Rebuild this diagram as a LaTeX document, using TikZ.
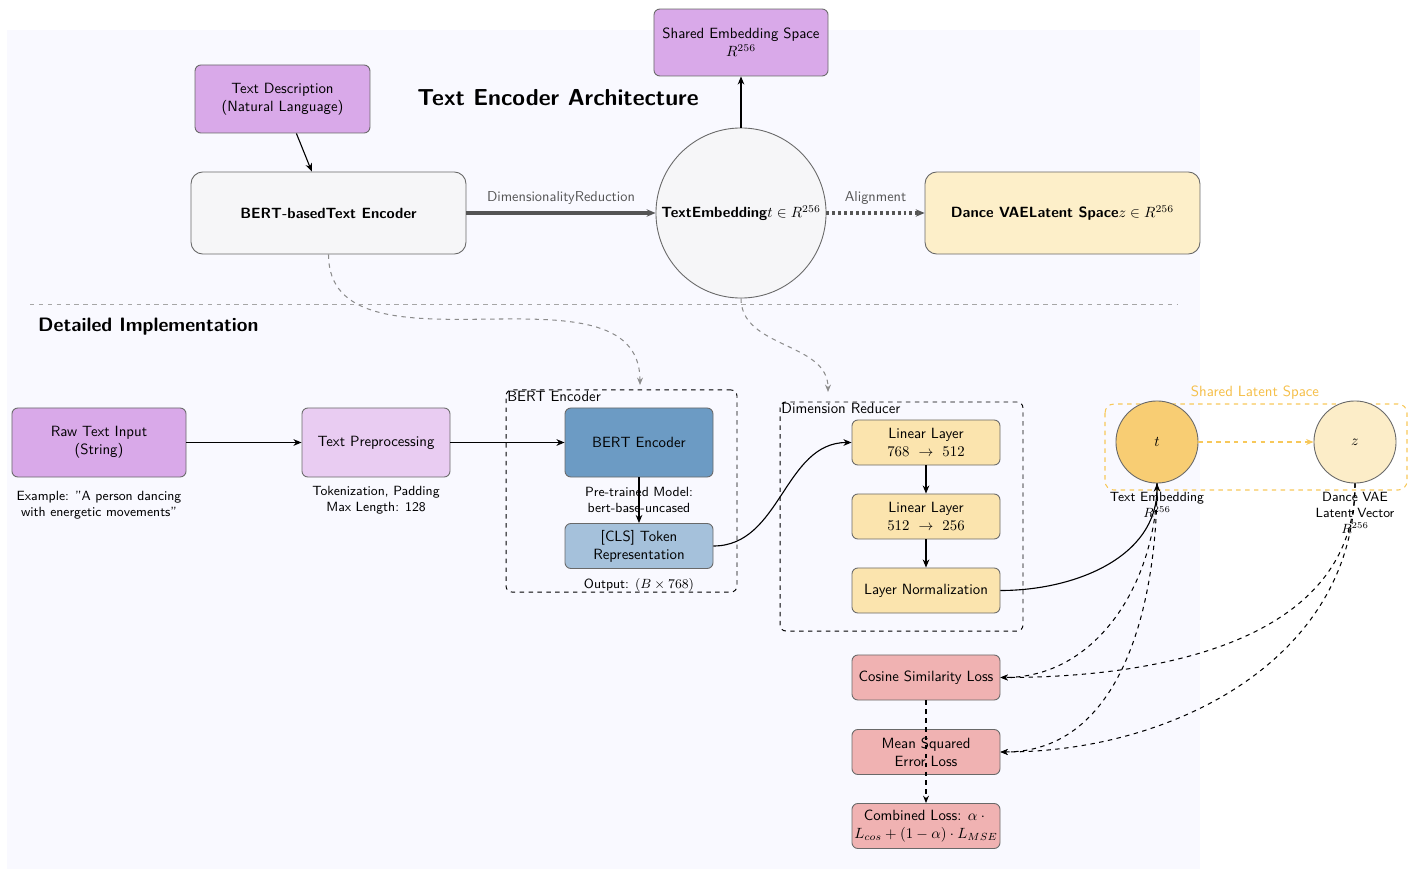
\documentclass[tikz,border=0pt]{standalone}
\usetikzlibrary{arrows.meta,positioning}
\renewcommand{\familydefault}{\sfdefault}
\definecolor{bgc}{RGB}{249,249,255}
\definecolor{purA}{RGB}{217,169,233}
\definecolor{purB}{RGB}{233,204,242}
\definecolor{blueA}{RGB}{108,155,196}
\definecolor{blueB}{RGB}{165,193,219}
\definecolor{yelA}{RGB}{251,228,174}
\definecolor{redA}{RGB}{240,178,178}
\definecolor{goldA}{RGB}{248,205,115}
\definecolor{goldB}{RGB}{252,237,200}
\definecolor{peach}{RGB}{253,239,201}
\definecolor{lgray}{RGB}{246,246,248}
\definecolor{bord}{RGB}{105,105,105}
\definecolor{orn}{RGB}{247,200,90}
\definecolor{ornt}{RGB}{245,190,70}
\definecolor{dgray}{RGB}{85,85,85}
\tikzset{
  box/.style={draw=bord, line width=0.6pt, rounded corners=4pt, align=center, inner sep=1pt, font=\sffamily},
  small/.style={box, minimum width=99.9pt, minimum height=30.4pt},
  wide/.style={box, rounded corners=8pt, minimum width=185.6pt, minimum height=55.4pt},
  ann/.style={align=center, font=\sffamily\small, inner sep=0pt},
  arr/.style={-{Stealth[length=5.5pt,width=4.5pt]}, line width=0.75pt},
  grp/.style={draw=black, dashed, line width=0.65pt, rounded corners=4pt},
  dcurve/.style={-{Stealth[length=5pt,width=4pt]}, dashed, line width=0.7pt},
  elabel/.style={font=\sffamily\fontsize{9.7}{11}\selectfont, text=dgray},
}
\begin{document}
\begin{tikzpicture}[x=0.675pt,y=-0.675pt]
\useasboundingbox (0,0) rectangle (1422,871);
\fill[bgc] (7,30) rectangle (1200,869);

% top section
\node[font=\sffamily\bfseries\fontsize{15.6}{18}\selectfont] (title) at (558,98) {Text Encoder Architecture};
\node[box, fill=purA, minimum width=118.1pt, minimum height=45.9pt] (td) at (282.5,99) {Text Description\\(Natural Language)};
\node[box, fill=purA, minimum width=117.5pt, minimum height=45.2pt] (se) at (741,42.5) {Shared Embedding Space\\$R^{256}$};
\node[wide, fill=lgray] (bb) at (328.5,213) {\textbf{BERT-basedText Encoder}};
\node[circle, draw=bord, line width=0.6pt, fill=lgray, minimum size=114.8pt, inner sep=0pt, font=\sffamily] (te) at (741,213) {\textbf{TextEmbedding}$t\in R^{256}$};
\node[wide, fill=peach] (dv) at (1062.5,213) {\textbf{Dance VAELatent Space}$z\in R^{256}$};

\draw[arr] (td) -- (bb);
\draw[arr] (te) -- (se);
\draw[-{Stealth[length=6pt,width=5pt]}, line width=2.4pt, draw=dgray] (bb) -- node[above=1pt, elabel] {DimensionalityReduction} (te);
\draw[-{Stealth[length=6pt,width=5pt]}, line width=2.4pt, draw=dgray, dash pattern=on 2pt off 2pt] (te) -- node[above=1pt, elabel] {Alignment} (dv);

\draw[dashed, draw=black!35, line width=0.6pt] (30,304) -- (1178,304);
\node[font=\sffamily\bfseries\fontsize{13.1}{15}\selectfont, anchor=west] (di) at (33,327) {Detailed Implementation};

% lower section
\node[grp, minimum width=155.9pt, minimum height=136.4pt] (g1) at (621.5,491) {};
\node[anchor=north west, font=\sffamily, inner sep=1pt] (g1l) at (g1.north west) {BERT Encoder};
\node[grp, minimum width=164pt, minimum height=154.6pt] (g2) at (901.5,516.5) {};
\node[anchor=north west, font=\sffamily, inner sep=1pt] (g2l) at (g2.north west) {Dimension Reducer};
\coordinate (g1in) at (640,385);
\coordinate (g2in) at (828,392);

\node[box, fill=purA, minimum width=117.5pt, minimum height=46.6pt] (raw) at (99,442.5) {Raw Text Input\\(String)};
\node[ann] (rawa) at (99,505) {Example: "A person dancing\\with energetic movements"};
\node[box, fill=purB, minimum width=99.9pt, minimum height=46.6pt] (pre) at (376,442.5) {Text Preprocessing};
\node[ann] (prea) at (376,500) {Tokenization, Padding\\Max Length: 128};
\node[box, fill=blueA, minimum width=99.9pt, minimum height=46.6pt] (be) at (639,442.5) {BERT Encoder};
\node[small, fill=blueB] (cls) at (639,546) {[CLS] Token\\Representation};
\node[ann] (bea) at (639,500) {Pre-trained Model:\\bert-base-uncased};
\node[ann] (clsa) at (639,585) {Output: $(B\times768)$};

\node[small, fill=yelA] (l1) at (926,442.5) {Linear Layer\\$768\ \rightarrow\ 512$};
\node[small, fill=yelA] (l2) at (926,516.5) {Linear Layer\\$512\ \rightarrow\ 256$};
\node[small, fill=yelA] (ln) at (926,590.5) {Layer Normalization};

\node[small, fill=redA] (cos) at (926,677.5) {Cosine Similarity Loss};
\node[small, fill=redA] (mse) at (926,752) {Mean Squared\\Error Loss};
\node[small, fill=redA] (comb) at (926,826) {Combined Loss: $\alpha\cdot{}$\\$L_{cos}+(1-\alpha)\cdot L_{MSE}$};

\draw[dashed, draw=orn, line width=0.7pt, rounded corners=6pt] (1105,404) rectangle (1407,490);
\node[font=\sffamily, text=ornt] (sls) at (1255,393) {Shared Latent Space};
\node[circle, draw=bord, line width=0.6pt, fill=goldA, minimum size=55.4pt, inner sep=0pt] (t) at (1157,442) {$t$};
\node[circle, draw=bord, line width=0.6pt, fill=goldB, minimum size=55.4pt, inner sep=0pt] (z) at (1355,442) {$z$};
\node[ann] (ta) at (1157,505) {Text Embedding\\$R^{256}$};
\node[ann] (za) at (1355,513) {Dance VAE\\Latent Vector\\$R^{256}$};
\draw[-{Stealth[length=5pt,width=4pt]}, dashed, draw=orn, line width=0.7pt] (t) -- (z);

% connectors
\draw[arr] (raw) -- (pre);
\draw[arr] (pre) -- (be);
\draw[arr] (be) -- (cls);
\draw[arr] (cls.east) to[out=0,in=180] (l1.west);
\draw[arr] (l1) -- (l2);
\draw[arr] (l2) -- (ln);
\draw[arr] (ln.east) to[out=0,in=-90] (t.south);

\draw[dcurve, draw=black!45] (bb.south) to[out=-90,in=90] (g1in);
\draw[dcurve, draw=black!45] (te.south) to[out=-90,in=90] (g2in);

\draw[dcurve] (t.south) to[out=-90,in=0] (cos.east);
\draw[dcurve] (t.south) to[out=-90,in=0] (mse.east);
\draw[dcurve] (z.south) to[out=-90,in=0] (cos.east);
\draw[dcurve] (z.south) to[out=-90,in=0] (mse.east);
\draw[dcurve] (cos.south) -- (comb.north);
\end{tikzpicture}
\end{document}
